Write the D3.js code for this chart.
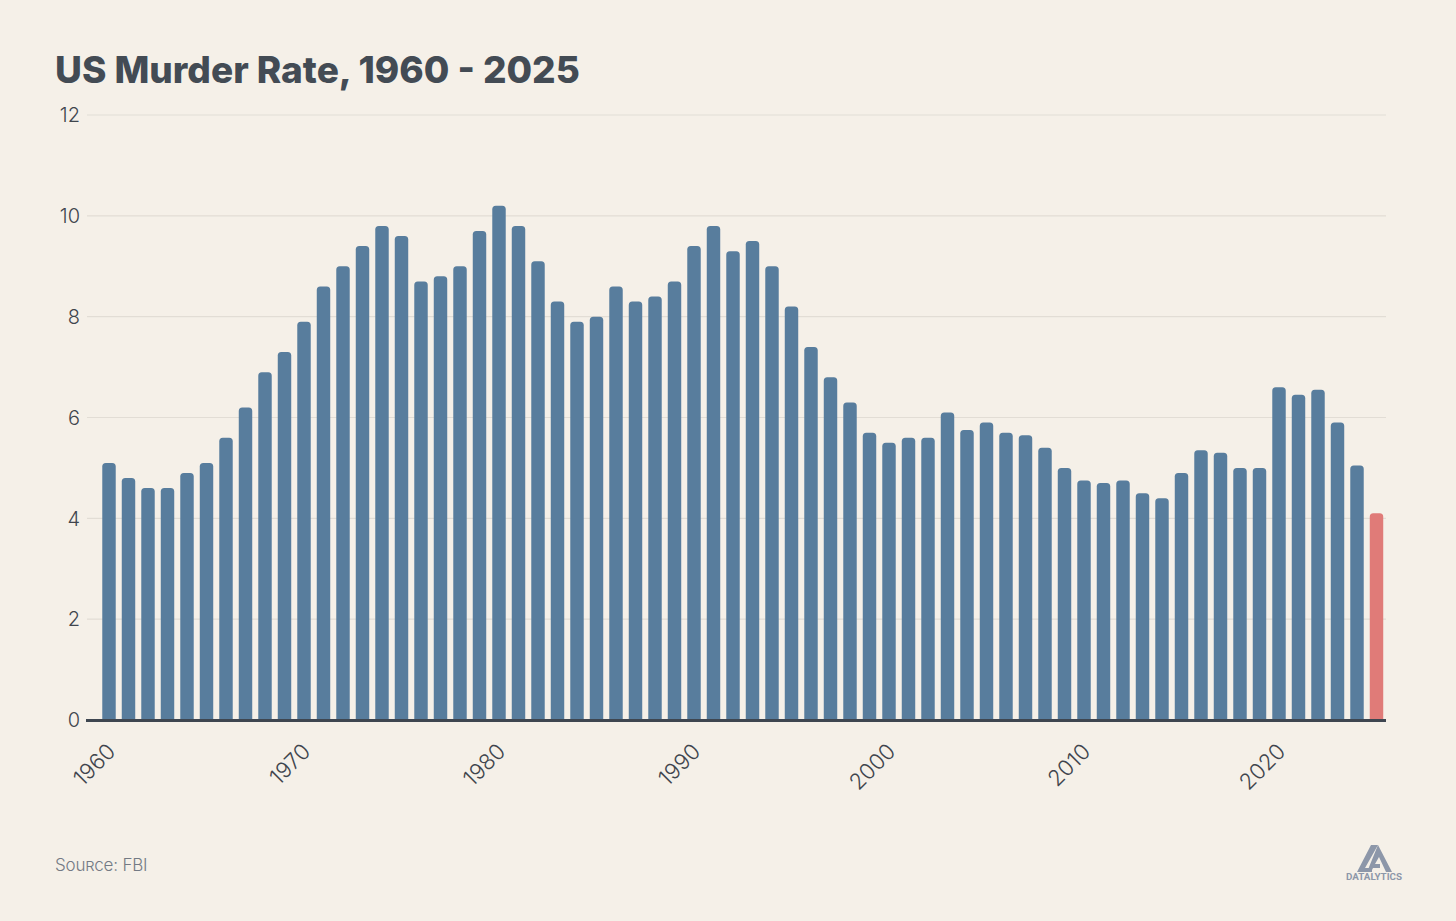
<!DOCTYPE html>
<html>
<head>
<meta charset="utf-8">
<script src="https://cdn.jsdelivr.net/npm/d3@7"></script>
<style>
  html, body { margin: 0; padding: 0; background: #f5f0e8; }
  svg { display: block; }
</style>
</head>
<body>
<svg id="chart" width="1456" height="921"></svg>
<script>
// murder rate per 100k
var years = d3.range(1960, 2026)
var rates = [
  5.1, 4.8, 4.6, 4.6, 4.9, 5.1, 5.6, 6.2, 6.9, 7.3,
  7.9, 8.6, 9.0, 9.4, 9.8, 9.6, 8.7, 8.8, 9.0, 9.7,
  10.2, 9.8, 9.1, 8.3, 7.9, 8.0, 8.6, 8.3, 8.4, 8.7,
  9.4, 9.8, 9.3, 9.5, 9.0, 8.2, 7.4, 6.8, 6.3, 5.7,
  5.5, 5.6, 5.6, 6.1, 5.75, 5.9, 5.7, 5.65, 5.4, 5.0,
  4.75, 4.7, 4.75, 4.5, 4.4, 4.9, 5.35, 5.3, 5.0, 5.0,
  6.6, 6.45, 6.55, 5.9, 5.05, 4.1
]
var yTicks = [0, 2, 4, 6, 8, 10, 12]
var xTicks = [1960, 1970, 1980, 1990, 2000, 2010, 2020]
var highlightYear = 2025

var svg = d3.select("#chart")

svg.append("rect")
    .attr("width", 1456)
    .attr("height", 921)
    .attr("fill", "#f5f0e8")

svg.append("text")
    .attr("x", 55)
    .attr("y", 83)
    .style("font-family", "Inter, 'Open Sans', sans-serif")
    .style("font-weight", 800)
    .style("font-size", "37px")
    .style("fill", "#434b54")
    .text("US Murder Rate, 1960 - 2025")

var x = d3.scaleBand()
    .domain(years)
    .range([99.25, 1386.25])
    .paddingInner(0.31)
    .paddingOuter(0.155)

var y = d3.scaleLinear()
    .domain([0, 12])
    .range([720, 115])

// gridlines + y labels
var grid = svg.append("g")
grid.selectAll("line")
    .data(yTicks.filter(function(d){ return d > 0 }))
    .enter().append("line")
    .attr("x1", 87)
    .attr("x2", 1386)
    .attr("y1", function(d){ return y(d) })
    .attr("y2", function(d){ return y(d) })
    .attr("stroke", "#e2ddd5")
    .attr("stroke-width", 1.2)

grid.selectAll("text")
    .data(yTicks)
    .enter().append("text")
    .attr("x", 80)
    .attr("y", function(d){ return y(d) })
    .attr("dy", "0.36em")
    .attr("text-anchor", "end")
    .style("font-family", "Inter, sans-serif")
    .style("font-weight", 300)
    .style("font-size", "20px")
    .style("fill", "#3f454d")
    .text(function(d){ return d })

// bars with rounded tops
function barPath(d, i){
    var x0 = x(years[i]), w = x.bandwidth()
    var y0 = y(d), y1 = y(0), r = 3.5
    return "M" + x0 + "," + y1 +
        "V" + (y0 + r) +
        "Q" + x0 + "," + y0 + " " + (x0 + r) + "," + y0 +
        "H" + (x0 + w - r) +
        "Q" + (x0 + w) + "," + y0 + " " + (x0 + w) + "," + (y0 + r) +
        "V" + y1 + "Z"
}

svg.append("g")
    .selectAll("path")
    .data(rates)
    .enter().append("path")
    .attr("d", barPath)
    .attr("fill", function(d, i){ return years[i] === highlightYear ? "#e07b78" : "#587d9d" })

// baseline
svg.append("line")
    .attr("x1", 86)
    .attr("x2", 1386)
    .attr("y1", y(0) + 0.5)
    .attr("y2", y(0) + 0.5)
    .attr("stroke", "#3e4650")
    .attr("stroke-width", 3)

// x labels, rotated
svg.append("g")
    .selectAll("text")
    .data(xTicks)
    .enter().append("text")
    .attr("transform", function(d){
        return "translate(" + (x(d) + x.bandwidth() / 2 - 3) + "," + 742 + ") rotate(-45)"
    })
    .attr("text-anchor", "end")
    .attr("dy", "0.7em")
    .style("font-family", "Inter, sans-serif")
    .style("font-weight", 300)
    .style("font-size", "22px")
    .style("fill", "#3f454d")
    .text(function(d){ return d })

// source
svg.append("text")
    .attr("x", 55)
    .attr("y", 871)
    .style("font-family", "Inter, sans-serif")
    .style("font-weight", 300)
    .style("font-size", "17px")
    .style("font-variant", "small-caps")
    .style("letter-spacing", "-0.2px")
    .style("fill", "#737a84")
    .text("Source: FBI")

// logo
var logo = svg.append("g").attr("transform", "translate(1374,845)")
logo.append("path")
    .attr("d", "M-17,27 L-3,0 L4,0 L-9,23 L-2,23 L-2,27 Z")
    .attr("fill", "#8d97a9")
logo.append("path")
    .attr("d", "M4,0 L18,27 L12,27 L5,12 L1,19 L6,19 L6,23 L-1,23 L-3,27 L-7,27 Z")
    .attr("fill", "#8d97a9")
logo.append("text")
    .attr("x", 0)
    .attr("y", 35)
    .attr("text-anchor", "middle")
    .style("font-family", "Roboto, sans-serif")
    .style("font-weight", 700)
    .style("font-size", "9.8px")
    .style("fill", "#8d97a9")
    .text("DATALYTICS")
</script>
</body>
</html>
